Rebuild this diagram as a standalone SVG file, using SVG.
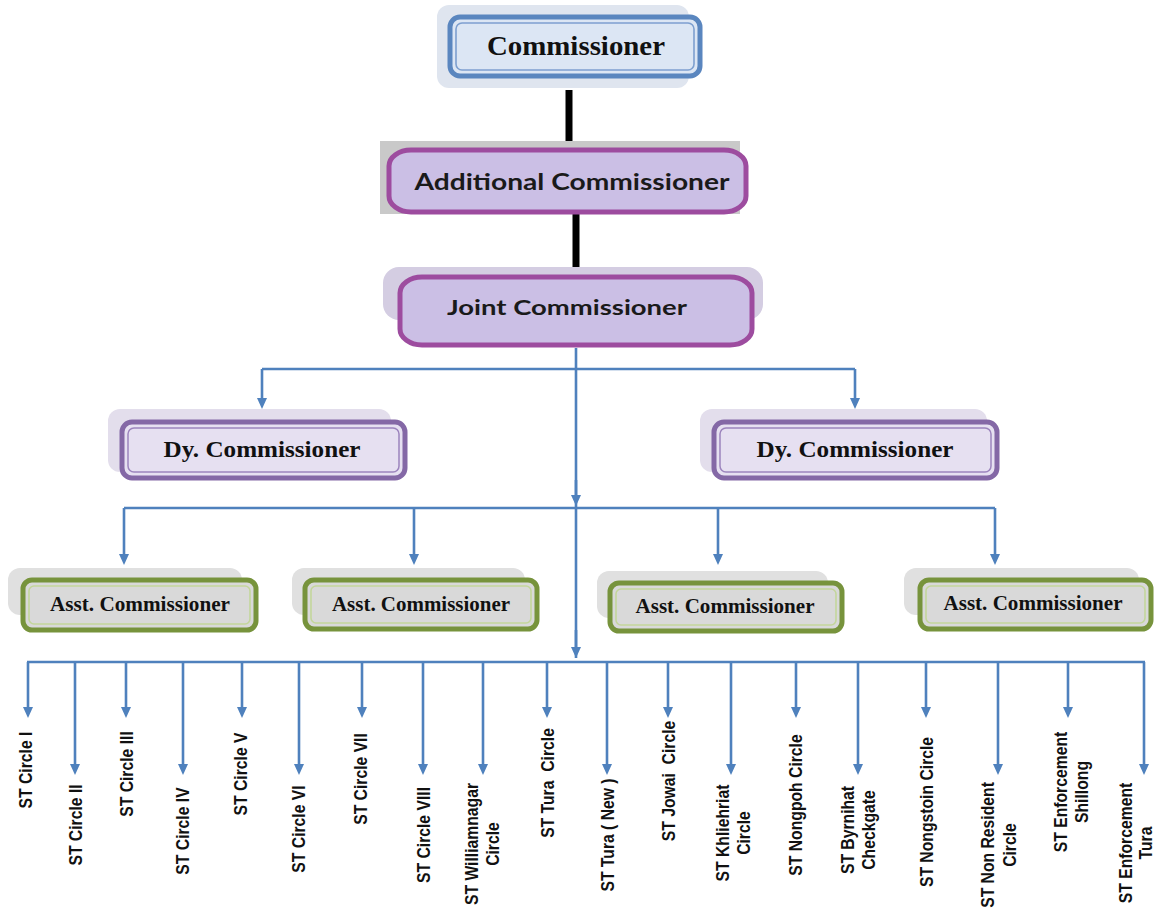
<svg xmlns="http://www.w3.org/2000/svg" width="1164" height="917" viewBox="0 0 1164 917">
<defs>
<style>
.serif{font-family:"Liberation Serif","Times New Roman",serif;font-weight:bold;fill:#111;text-anchor:middle}
.sans{font-family:Lato,"Open Sans","Liberation Sans",sans-serif;font-weight:bold;fill:#1a1a1a;text-anchor:middle}
.lbl{font-family:"Liberation Sans",Arial,sans-serif;font-weight:bold;font-size:18.5px;fill:#111;text-anchor:middle;white-space:pre}
.conn{stroke:#4f81bd;stroke-width:2.6;fill:none}
.blk{stroke:#000;stroke-width:7;fill:none}
.arr{marker-end:url(#ah)}
</style>
<marker id="ah" markerUnits="userSpaceOnUse" markerWidth="11" markerHeight="11" refX="0" refY="5" orient="auto" viewBox="0 0 11 10">
<path d="M0,0 L11,5 L0,10 z" fill="#4f81bd"/>
</marker>
</defs>
<rect width="1164" height="917" fill="#fff"/>

<g id="connectors">
<line class="blk" x1="569" y1="90" x2="569" y2="146"/>
<line class="blk" x1="576" y1="212" x2="576" y2="268"/>
<line class="conn" x1="576" y1="348" x2="576" y2="658"/>
<path class="conn arr" d="M576,480 L576,495"/>
<path class="conn" d="M262,369 L855,369"/>
<path class="conn arr" d="M262,369 L262,398"/>
<path class="conn arr" d="M855,369 L855,398"/>
<path class="conn" d="M124,508 L995,508"/>
<path class="conn arr" d="M124,508 L124,554"/>
<path class="conn arr" d="M414,508 L414,554"/>
<path class="conn arr" d="M718,508 L718,554"/>
<path class="conn arr" d="M995,508 L995,554"/>
<path class="conn arr" d="M576,630 L576,647"/>
<path class="conn" d="M27,662 L1145,662"/>
<path class="conn arr" d="M28,662 L28,707"/>
<path class="conn arr" d="M75,662 L75,764"/>
<path class="conn arr" d="M126,662 L126,707"/>
<path class="conn arr" d="M183,662 L183,764"/>
<path class="conn arr" d="M242,662 L242,707"/>
<path class="conn arr" d="M299,662 L299,764"/>
<path class="conn arr" d="M362,662 L362,707"/>
<path class="conn arr" d="M423,662 L423,764"/>
<path class="conn arr" d="M483,662 L483,764"/>
<path class="conn arr" d="M547,662 L547,707"/>
<path class="conn arr" d="M607,662 L607,764"/>
<path class="conn arr" d="M668,662 L668,707"/>
<path class="conn arr" d="M731,662 L731,764"/>
<path class="conn arr" d="M796,662 L796,707"/>
<path class="conn arr" d="M858,662 L858,764"/>
<path class="conn arr" d="M926,662 L926,707"/>
<path class="conn arr" d="M998,662 L998,764"/>
<path class="conn arr" d="M1068,662 L1068,707"/>
<path class="conn arr" d="M1144,662 L1144,764"/>
</g>

<g id="commissioner">
<rect x="437" y="5" width="252" height="83" rx="12" fill="#dfe5ef"/>
<rect x="450" y="17" width="250" height="59" rx="10" fill="#dce6f4" stroke="#5a86bf" stroke-width="5"/>
<rect x="456" y="23" width="238" height="47" rx="6" fill="none" stroke="#7d9fcf" stroke-width="1.6"/>
<text class="serif" x="576" y="55" font-size="27" textLength="178" lengthAdjust="spacingAndGlyphs">Commissioner</text>
</g>

<g id="additional">
<rect x="380" y="141" width="360" height="73" fill="#c9c9c9"/>
<rect x="389" y="150" width="357" height="62" rx="22" ry="16" fill="#cbbfe5" stroke="#9d4c9f" stroke-width="5"/>
<text class="sans" x="572" y="190" font-size="22" textLength="315" lengthAdjust="spacingAndGlyphs">Additional Commissioner</text>
</g>

<g id="joint">
<rect x="383" y="267" width="380" height="53" rx="16" fill="#d4cde2"/>
<rect x="400" y="277" width="352" height="68" rx="22" ry="16" fill="#cbbfe5" stroke="#9d4c9f" stroke-width="5"/>
<text class="sans" x="567" y="315" font-size="21" textLength="240" lengthAdjust="spacingAndGlyphs">Joint Commissioner</text>
</g>

<g id="dy-left">
<rect x="108" y="409" width="283" height="63" rx="12" fill="#e3deec"/>
<rect x="122" y="422" width="283" height="56" rx="10" fill="#e6e0f1" stroke="#8468a6" stroke-width="5"/>
<rect x="128" y="428" width="271" height="44" rx="6" fill="none" stroke="#9c84bd" stroke-width="1.5"/>
<text class="serif" x="262" y="457" font-size="23" textLength="197" lengthAdjust="spacingAndGlyphs">Dy. Commissioner</text>
</g>

<g id="dy-right">
<rect x="700" y="409" width="287" height="63" rx="12" fill="#e3deec"/>
<rect x="714" y="422" width="283" height="56" rx="10" fill="#e6e0f1" stroke="#8468a6" stroke-width="5"/>
<rect x="720" y="428" width="271" height="44" rx="6" fill="none" stroke="#9c84bd" stroke-width="1.5"/>
<text class="serif" x="855" y="457" font-size="23" textLength="197" lengthAdjust="spacingAndGlyphs">Dy. Commissioner</text>
</g>

<g id="asst-1">
<rect x="8" y="568" width="234" height="47" rx="12" fill="#e0e0e0"/>
<rect x="23" y="580" width="233" height="50" rx="9" fill="#d9d9d9" stroke="#77933c" stroke-width="5"/>
<rect x="29" y="586" width="221" height="38" rx="5" fill="none" stroke="#c3d69b" stroke-width="1.6"/>
<text class="serif" x="140" y="611" font-size="20" textLength="180" lengthAdjust="spacingAndGlyphs">Asst. Commissioner</text>
</g>

<g id="asst-2">
<rect x="292" y="568" width="233" height="47" rx="12" fill="#e0e0e0"/>
<rect x="305" y="580" width="232" height="49" rx="9" fill="#d9d9d9" stroke="#77933c" stroke-width="5"/>
<rect x="311" y="586" width="220" height="37" rx="5" fill="none" stroke="#c3d69b" stroke-width="1.6"/>
<text class="serif" x="421" y="611" font-size="20" textLength="178" lengthAdjust="spacingAndGlyphs">Asst. Commissioner</text>
</g>

<g id="asst-3">
<rect x="597" y="571" width="231" height="47" rx="12" fill="#e0e0e0"/>
<rect x="610" y="583" width="232" height="48" rx="9" fill="#d9d9d9" stroke="#77933c" stroke-width="5"/>
<rect x="616" y="589" width="220" height="36" rx="5" fill="none" stroke="#c3d69b" stroke-width="1.6"/>
<text class="serif" x="725" y="613" font-size="20" textLength="179" lengthAdjust="spacingAndGlyphs">Asst. Commissioner</text>
</g>

<g id="asst-4">
<rect x="904" y="568" width="235" height="47" rx="12" fill="#e0e0e0"/>
<rect x="920" y="580" width="231" height="49" rx="9" fill="#d9d9d9" stroke="#77933c" stroke-width="5"/>
<rect x="926" y="586" width="219" height="37" rx="5" fill="none" stroke="#c3d69b" stroke-width="1.6"/>
<text class="serif" x="1033" y="610" font-size="20" textLength="179" lengthAdjust="spacingAndGlyphs">Asst. Commissioner</text>
</g>

<g id="st-circle-1"><text class="lbl" transform="translate(32,770) rotate(-90) scale(0.85,1)">ST Circle I</text></g>
<g id="st-circle-2"><text class="lbl" transform="translate(82,825) rotate(-90) scale(0.85,1)">ST Circle II</text></g>
<g id="st-circle-3"><text class="lbl" transform="translate(133,774) rotate(-90) scale(0.85,1)">ST Circle III</text></g>
<g id="st-circle-4"><text class="lbl" transform="translate(189,831) rotate(-90) scale(0.85,1)">ST Circle IV</text></g>
<g id="st-circle-5"><text class="lbl" transform="translate(247,774) rotate(-90) scale(0.85,1)">ST Circle V</text></g>
<g id="st-circle-6"><text class="lbl" transform="translate(305,829) rotate(-90) scale(0.85,1)">ST Circle VI</text></g>
<g id="st-circle-7"><text class="lbl" transform="translate(367,779) rotate(-90) scale(0.85,1)">ST Circle VII</text></g>
<g id="st-circle-8"><text class="lbl" transform="translate(430,835) rotate(-90) scale(0.85,1)">ST Circle VIII</text></g>
<g id="st-williamnagar"><text class="lbl" transform="translate(478,844) rotate(-90) scale(0.85,1)">ST Williamnagar</text><text class="lbl" transform="translate(499,844) rotate(-90) scale(0.85,1)">Circle</text></g>
<g id="st-tura"><text class="lbl" transform="translate(554,783) rotate(-90) scale(0.85,1)">ST Tura  Circle</text></g>
<g id="st-tura-new"><text class="lbl" transform="translate(614,835) rotate(-90) scale(0.85,1)">ST Tura ( New )</text></g>
<g id="st-jowai"><text class="lbl" transform="translate(675,781) rotate(-90) scale(0.85,1)">ST Jowai  Circle</text></g>
<g id="st-khliehriat"><text class="lbl" transform="translate(729,833) rotate(-90) scale(0.85,1)">ST Khliehriat</text><text class="lbl" transform="translate(750,833) rotate(-90) scale(0.85,1)">Circle</text></g>
<g id="st-nongpoh"><text class="lbl" transform="translate(802,805) rotate(-90) scale(0.85,1)">ST Nongpoh Circle</text></g>
<g id="st-byrnihat"><text class="lbl" transform="translate(854,830) rotate(-90) scale(0.85,1)">ST Byrnihat</text><text class="lbl" transform="translate(875,830) rotate(-90) scale(0.85,1)">Checkgate</text></g>
<g id="st-nongstoin"><text class="lbl" transform="translate(933,812) rotate(-90) scale(0.85,1)">ST Nongstoin Circle</text></g>
<g id="st-non-resident"><text class="lbl" transform="translate(994,845) rotate(-90) scale(0.85,1)">ST Non Resident</text><text class="lbl" transform="translate(1016,845) rotate(-90) scale(0.85,1)">Circle</text></g>
<g id="st-enf-shillong"><text class="lbl" transform="translate(1067,792) rotate(-90) scale(0.85,1)">ST Enforcement</text><text class="lbl" transform="translate(1088,792) rotate(-90) scale(0.85,1)">Shillong</text></g>
<g id="st-enf-tura"><text class="lbl" transform="translate(1132,843) rotate(-90) scale(0.85,1)">ST Enforcement</text><text class="lbl" transform="translate(1152,843) rotate(-90) scale(0.85,1)">Tura</text></g>
</svg>
